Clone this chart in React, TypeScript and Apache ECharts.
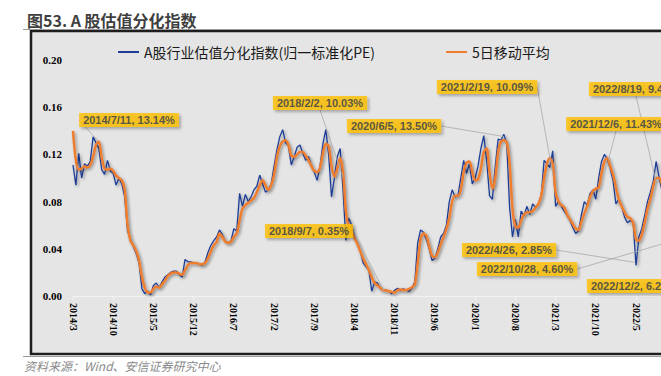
import React, { useEffect, useRef } from "react";
import * as echarts from "echarts";

const START_YEAR = 2014;
const START_MONTH = 3;
const STEP = 0.5; // months between samples (semi-monthly)

const seriesNames = ["A股行业估值分化指数(归一标准化PE)", "5日移动平均"];

const tickLabels = [
  "2014/3", "2014/10", "2015/5", "2015/12", "2016/7", "2017/2", "2017/9", "2018/4",
  "2018/11", "2019/6", "2020/1", "2020/8", "2021/3", "2021/10", "2022/5", "2022/12", "2023/7",
];

const blueValues = [
  0.111, 0.094, 0.121, 0.1, 0.112, 0.11, 0.114, 0.135, 0.13, 0.125,
  0.107, 0.103, 0.115, 0.106, 0.104, 0.094, 0.1, 0.095, 0.084, 0.055,
  0.048, 0.042, 0.036, 0.028, 0.006, 0.002, 0.004, 0.001, 0.009, 0.011,
  0.007, 0.012, 0.016, 0.018, 0.02, 0.021, 0.021, 0.018, 0.016, 0.031,
  0.029, 0.029, 0.028, 0.028, 0.027, 0.026, 0.029, 0.037, 0.043, 0.047,
  0.05, 0.056, 0.052, 0.046, 0.045, 0.047, 0.057, 0.055, 0.087, 0.076,
  0.086, 0.08, 0.084, 0.09, 0.093, 0.1025, 0.095, 0.088, 0.09, 0.095,
  0.11, 0.124, 0.135, 0.141, 0.13, 0.127, 0.111, 0.118, 0.126, 0.128,
  0.121, 0.115, 0.118, 0.11, 0.105, 0.098, 0.11, 0.129, 0.141, 0.12,
  0.084, 0.1, 0.118, 0.125, 0.09, 0.047, 0.066, 0.06, 0.05, 0.045,
  0.038, 0.028, 0.025, 0.022, 0.004, 0.012, 0.011, 0.0065, 0.005, 0.005,
  0.004, 0.002, 0.005, 0.0065, 0.005, 0.006, 0.005, 0.004, 0.0065, 0.012,
  0.045, 0.056, 0.054, 0.048, 0.04, 0.03, 0.032, 0.04, 0.05, 0.053,
  0.06, 0.08, 0.09, 0.084, 0.085, 0.1, 0.115, 0.104, 0.112, 0.095,
  0.1, 0.11, 0.125, 0.136, 0.115, 0.085, 0.082, 0.11, 0.133, 0.132,
  0.137, 0.129, 0.075, 0.05, 0.065, 0.05, 0.072, 0.068, 0.076, 0.069,
  0.078, 0.075, 0.078, 0.085, 0.115, 0.112, 0.109, 0.123, 0.076, 0.08,
  0.076, 0.072, 0.068, 0.064, 0.058, 0.053, 0.055, 0.069, 0.08, 0.077,
  0.087, 0.09, 0.082, 0.1, 0.114, 0.12, 0.116, 0.108, 0.098, 0.078,
  0.082, 0.076, 0.067, 0.062, 0.064, 0.062, 0.026, 0.05, 0.057, 0.068,
  0.08, 0.088, 0.097, 0.114, 0.101, 0.09, 0.075, 0.06, 0.046, 0.055,
  0.062, 0.068, 0.072,
];

const orangeValues = [
  0.14, 0.115, 0.107, 0.108, 0.11, 0.109, 0.111, 0.118, 0.128, 0.131,
  0.117, 0.108, 0.107, 0.108, 0.106, 0.102, 0.1, 0.098, 0.09, 0.06,
  0.047, 0.043, 0.038, 0.03, 0.016, 0.007, 0.003, 0.003, 0.006, 0.008,
  0.007, 0.01, 0.013, 0.017, 0.019, 0.02, 0.02, 0.019, 0.018, 0.022,
  0.026, 0.028, 0.028, 0.028, 0.027, 0.027, 0.028, 0.032, 0.038, 0.043,
  0.046, 0.053, 0.05, 0.046, 0.045, 0.046, 0.05, 0.053, 0.064, 0.074,
  0.077, 0.079, 0.081, 0.083, 0.088, 0.094, 0.098, 0.094, 0.09, 0.094,
  0.103, 0.118, 0.127, 0.131, 0.132, 0.128, 0.119, 0.118, 0.12, 0.122,
  0.122, 0.119, 0.115, 0.11, 0.106, 0.105, 0.109, 0.121, 0.129, 0.127,
  0.11, 0.101, 0.108, 0.117, 0.105, 0.072, 0.058, 0.054, 0.049, 0.044,
  0.038, 0.032, 0.027, 0.022, 0.016, 0.011, 0.009, 0.007, 0.005, 0.0048,
  0.004, 0.0035, 0.003, 0.005, 0.0055, 0.005, 0.005, 0.006, 0.0075, 0.01,
  0.028, 0.048, 0.053, 0.051, 0.042, 0.034, 0.033, 0.037, 0.044, 0.05,
  0.057, 0.066, 0.08, 0.085, 0.085, 0.09, 0.105, 0.113, 0.114, 0.105,
  0.098, 0.099, 0.108, 0.122, 0.125, 0.105, 0.091, 0.1, 0.122, 0.131,
  0.132, 0.13, 0.112, 0.074, 0.059, 0.058, 0.064, 0.069, 0.071, 0.071,
  0.072, 0.075, 0.078, 0.085, 0.1, 0.112, 0.117, 0.112, 0.088, 0.08,
  0.077, 0.075, 0.069, 0.065, 0.061, 0.057, 0.056, 0.063, 0.07, 0.076,
  0.084, 0.089, 0.091, 0.092, 0.104, 0.114, 0.117, 0.11, 0.103, 0.092,
  0.082, 0.076, 0.071, 0.067, 0.066, 0.062, 0.048, 0.047, 0.052, 0.062,
  0.074, 0.082, 0.093, 0.1, 0.1, 0.095, 0.085, 0.072, 0.06, 0.057,
  0.06, 0.064, 0.067,
];

const annoDates = [
  "2014/7/11", "2018/2/2", "2018/9/7", "2020/6/5", "2021/2/19",
  "2021/12/6", "2022/8/19", "2022/4/26", "2022/10/28", "2022/12/2",
];
const annoValues = [13.14, 10.03, 0.35, 13.5, 10.09, 11.43, 9.47, 2.85, 4.6, 6.23];

// pixel centres of the annotation boxes (layout only)
const annoBoxCenters = [
  [129, 120], [320, 103], [309, 231], [394, 126], [487, 87],
  [616, 124], [636, 89], [509, 250], [527, 269], [634, 286],
];

function monthIndex(d: string): number {
  const [y, m, day] = d.split("/").map(Number);
  return (y - START_YEAR) * 12 + (m - START_MONTH) + (day - 1) / 30;
}

const PX_PER_MONTH = 5.745;
const X_MAX = 112;

export default function App() {
  const ref = useRef<HTMLDivElement>(null);

  useEffect(() => {
    if (!ref.current) return;
    const chart = echarts.init(ref.current, null, { renderer: "svg" });

    const blueData = blueValues.map((v, i) => [i * STEP, v]);
    const orangeData = orangeValues.map((v, i) => [i * STEP, v]);
    const annoData = annoDates.map((d, i) => [
      monthIndex(d),
      annoValues[i] / 100,
      `${d}, ${annoValues[i].toFixed(2)}%`,
    ]);

    const lineShadow = {
      shadowColor: "rgba(0,0,0,0.35)",
      shadowBlur: 3,
      shadowOffsetX: 1.5,
      shadowOffsetY: 1.5,
    };

    const legendText = { fontFamily: "Noto Sans CJK SC", fontSize: 14, color: "#1a1a1a" };

    chart.setOption({
      animation: false,
      title: {
        text: "图53. A 股估值分化指数",
        left: 22,
        top: 7,
        textStyle: {
          fontFamily: "Noto Sans CJK SC",
          fontSize: 16,
          fontWeight: "bold",
          color: "#3f3f3f",
        },
      },
      graphic: [
        {
          type: "rect",
          z: -10,
          silent: true,
          shape: { x: 31, y: 31, width: 760, height: 323 },
          style: { fill: "#e5e5e5", stroke: "#1e1e1e", lineWidth: 2.5 },
        },
        {
          type: "line",
          silent: true,
          shape: { x1: 23, y1: 29.5, x2: 760, y2: 29.5 },
          style: { stroke: "#9a9a9a", lineWidth: 1.2 },
        },
        {
          type: "line",
          silent: true,
          shape: { x1: 23, y1: 356.5, x2: 760, y2: 356.5 },
          style: { stroke: "#9a9a9a", lineWidth: 1 },
        },
        {
          type: "text",
          silent: true,
          x: 24,
          y: 359,
          style: {
            text: "资料来源：Wind、安信证券研究中心",
            fontFamily: "Noto Sans CJK SC",
            fontStyle: "italic",
            fontSize: 12,
            fill: "#8a8a8a",
          },
        },
      ],
      legend: [
        {
          data: [seriesNames[0]],
          left: 113,
          top: 40,
          icon: "rect",
          itemWidth: 21,
          itemHeight: 2,
          textStyle: legendText,
        },
        {
          data: [seriesNames[1]],
          left: 441,
          top: 40,
          icon: "rect",
          itemWidth: 21,
          itemHeight: 2,
          textStyle: legendText,
        },
      ],
      grid: {
        left: 73,
        top: 60,
        width: X_MAX * PX_PER_MONTH,
        height: 236,
        containLabel: false,
      },
      xAxis: {
        type: "value",
        min: 0,
        max: X_MAX,
        interval: 7,
        axisLine: { show: true, lineStyle: { color: "#f2f2f2", width: 1 } },
        axisTick: { show: true, length: 4, lineStyle: { color: "#f2f2f2" } },
        splitLine: { show: false },
        axisLabel: {
          rotate: -90,
          margin: 7,
          fontFamily: "Liberation Serif",
          fontWeight: "bold",
          fontSize: 10,
          color: "#000",
          formatter: (v: number) => tickLabels[Math.round(v / 7)] ?? "",
        },
      },
      yAxis: {
        type: "value",
        min: 0,
        max: 0.2,
        interval: 0.04,
        axisLine: { show: false },
        axisTick: { show: false },
        splitLine: { show: false },
        axisLabel: {
          margin: 11,
          fontFamily: "Liberation Serif",
          fontWeight: "bold",
          fontSize: 11,
          color: "#000",
          formatter: (v: number) => v.toFixed(2),
        },
      },
      series: [
        {
          name: seriesNames[0],
          type: "line",
          data: blueData,
          symbol: "none",
          z: 3,
          lineStyle: { color: "#1f3d96", width: 1.3, ...lineShadow },
          itemStyle: { color: "#1f3d96" },
        },
        {
          name: seriesNames[1],
          type: "line",
          data: orangeData,
          symbol: "none",
          smooth: 0.3,
          z: 4,
          lineStyle: { color: "#ef7d2f", width: 2.5, ...lineShadow },
          itemStyle: { color: "#ef7d2f" },
        },
        {
          name: "annotations",
          type: "scatter",
          data: annoData,
          symbolSize: 1,
          silent: true,
          z: 5,
          itemStyle: { color: "rgba(0,0,0,0)" },
          label: {
            show: true,
            formatter: (p: any) => p.data[2],
            backgroundColor: "#ffc000",
            padding: [2, 4, 1, 4],
            fontFamily: "Liberation Sans",
            fontWeight: "bold",
            fontSize: 11,
            color: "#2e3a4c",
            shadowColor: "rgba(0,0,0,0.35)",
            shadowBlur: 3,
            shadowOffsetX: 2,
            shadowOffsetY: 2,
          },
          labelLine: {
            show: true,
            length2: 0,
            lineStyle: { color: "#a8a8a8", width: 0.8 },
          },
          labelLayout: (params: any) => {
            const c = annoBoxCenters[params.dataIndex];
            return { x: c[0], y: c[1], align: "center", verticalAlign: "middle" };
          },
        },
      ],
    });

    return () => chart.dispose();
  }, []);

  return (
    <div
      style={{
        position: "fixed",
        left: 0,
        top: 0,
        width: 661,
        height: 376,
        overflow: "hidden",
        background: "#fff",
      }}
    >
      <div ref={ref} style={{ width: 760, height: 376 }} />
    </div>
  );
}
